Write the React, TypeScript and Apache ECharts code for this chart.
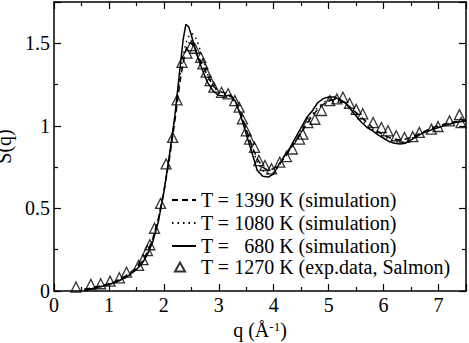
import React, { useEffect, useRef } from "react";
import * as echarts from "echarts";

const qSim = [0.55, 0.7, 0.9, 1.1, 1.3, 1.5, 1.6, 1.7, 1.8, 1.9, 2.0, 2.1, 2.2, 2.3, 2.35, 2.4, 2.45, 2.5, 2.55, 2.6,
  2.7, 2.8, 2.9, 3.0, 3.1, 3.2, 3.3, 3.4, 3.5, 3.6, 3.7, 3.8, 3.9, 4.0, 4.1, 4.2, 4.3, 4.4, 4.5, 4.6, 4.7, 4.8, 4.9,
  5.0, 5.1, 5.2, 5.3, 5.4, 5.5, 5.6, 5.7, 5.8, 5.9, 6.0, 6.1, 6.2, 6.3, 6.4, 6.5, 6.6, 6.7, 6.8, 6.9, 7.0, 7.1, 7.2,
  7.3, 7.4, 7.5];

const s1390 = [0.01, 0.02, 0.035, 0.055, 0.09, 0.14, 0.18, 0.235, 0.32, 0.44, 0.6, 0.8, 1.03, 1.28, 1.38, 1.46, 1.5, 1.5, 1.475, 1.44,
  1.37, 1.3, 1.24, 1.21, 1.2, 1.19, 1.15, 1.08, 0.98, 0.88, 0.8, 0.75, 0.73, 0.74, 0.77, 0.81, 0.86, 0.91, 0.96, 1.01, 1.06, 1.1, 1.13,
  1.15, 1.16, 1.155, 1.14, 1.11, 1.08, 1.05, 1.02, 0.99, 0.965, 0.945, 0.93, 0.92, 0.915, 0.92, 0.93, 0.945, 0.96, 0.975, 0.99, 1.0, 1.01, 1.02,
  1.025, 1.03, 1.035];

const s1080 = [0.005, 0.015, 0.03, 0.05, 0.085, 0.135, 0.17, 0.225, 0.31, 0.43, 0.6, 0.81, 1.05, 1.32, 1.42, 1.5, 1.54, 1.56, 1.55, 1.52,
  1.42, 1.31, 1.24, 1.2, 1.19, 1.18, 1.14, 1.07, 0.97, 0.87, 0.78, 0.73, 0.71, 0.72, 0.76, 0.81, 0.86, 0.91, 0.97, 1.02, 1.07, 1.11, 1.14,
  1.16, 1.165, 1.16, 1.14, 1.11, 1.07, 1.04, 1.0, 0.98, 0.955, 0.935, 0.92, 0.905, 0.9, 0.905, 0.92, 0.94, 0.955, 0.97, 0.985, 0.995, 1.005, 1.015,
  1.02, 1.03, 1.03];

const s680 = [0.0, 0.015, 0.03, 0.05, 0.08, 0.13, 0.165, 0.22, 0.3, 0.42, 0.6, 0.82, 1.06, 1.37, 1.52, 1.615, 1.6, 1.55, 1.49, 1.43,
  1.34, 1.26, 1.21, 1.185, 1.18, 1.185, 1.15, 1.06, 0.95, 0.84, 0.73, 0.695, 0.69, 0.71, 0.77, 0.82, 0.87, 0.93, 0.99, 1.05, 1.09, 1.14, 1.165,
  1.175, 1.175, 1.16, 1.14, 1.1, 1.06, 1.02, 0.99, 0.97, 0.945, 0.925, 0.905, 0.895, 0.89, 0.895, 0.915, 0.935, 0.955, 0.965, 0.98, 0.99, 1.0, 1.01,
  1.02, 1.025, 1.03];

const qExp = [0.4, 0.67, 0.85, 1.02, 1.19, 1.32, 1.54, 1.62, 1.7, 1.745, 1.83, 1.94, 2.04, 2.16, 2.24, 2.33, 2.42, 2.5, 2.56,
  2.67, 2.71, 2.77, 2.84, 2.91, 3.05, 3.17, 3.29, 3.37, 3.43, 3.5, 3.56, 3.65, 3.73, 3.84, 3.96, 4.11, 4.23, 4.34, 4.47,
  4.53, 4.62, 4.75, 4.87, 5.02, 5.15, 5.26, 5.38, 5.5, 5.62, 5.81, 5.96, 6.08, 6.23, 6.38, 6.53, 6.65, 6.87, 6.99, 7.2,
  7.38, 7.41];
const sExp = [0.024, 0.04, 0.044, 0.06, 0.08, 0.114, 0.155, 0.19, 0.245, 0.28, 0.38, 0.53, 0.77, 0.93, 1.157, 1.385, 1.44, 1.486, 1.47,
  1.415, 1.375, 1.325, 1.274, 1.234, 1.203, 1.194, 1.153, 1.113, 1.042, 0.97, 0.92, 0.87, 0.79, 0.76, 0.74, 0.78, 0.814, 0.86, 0.92,
  0.95, 1.02, 1.04, 1.093, 1.153, 1.163, 1.173, 1.137, 1.1, 1.073, 1.02, 0.99, 0.97, 0.94, 0.93, 0.935, 0.96, 0.98, 0.996, 1.03,
  1.068, 1.02];

const legendNames = [
  "T = 1390 K (simulation)",
  "T = 1080 K (simulation)",
  "T = \u00a0\u00a0680 K (simulation)",
  "T = 1270 K (exp.data, Salmon)",
];

const xTicks = { min: 0, max: 7.5, interval: 1 };
const yTicks = { min: 0, max: 1.75, interval: 0.5 };

const FONT = "Liberation Serif";

export default function App() {
  const ref = useRef<HTMLDivElement>(null);
  useEffect(() => {
    if (!ref.current) return;
    const chart = echarts.init(ref.current, undefined, { renderer: "svg" });
    const pair = (xs: number[], ys: number[]) => xs.map((x, i) => [x, ys[i]]);
    const axisCommon = {
      type: "value" as const,
      splitLine: { show: false },
      axisLine: { show: true, onZero: false, lineStyle: { color: "#000", width: 1.5 } },
      axisTick: { show: true, inside: true, length: 7, lineStyle: { color: "#000", width: 1.2 } },
      minorTick: { show: true, splitNumber: 2, length: 4, lineStyle: { color: "#000", width: 1.2 } },
    };
    const labelStyle = { color: "#000", fontSize: 20, fontFamily: FONT };
    chart.setOption({
      animation: false,
      backgroundColor: "#fff",
      textStyle: { fontFamily: FONT },
      grid: { left: 54, right: 3, top: 2, bottom: 52, outerBoundsMode: "none", containLabel: false },
      legend: [
        {
          orient: "vertical",
          left: 166,
          top: 185,
          itemWidth: 24,
          itemHeight: 12,
          itemGap: 3,
          data: legendNames.slice(0, 3).map((n) => ({ name: n, itemStyle: { opacity: 0 } })),
          textStyle: { color: "#000", fontSize: 20, fontFamily: FONT },
        },
        {
          orient: "vertical",
          left: 169,
          top: 252,
          itemWidth: 10,
          itemHeight: 9,
          data: [legendNames[3]],
          textStyle: { color: "#000", fontSize: 20, fontFamily: FONT, padding: [0, 0, 0, 11] },
        },
      ],
      xAxis: [
        {
          ...axisCommon,
          ...xTicks,
          position: "bottom",
          axisLabel: { ...labelStyle, margin: 4, showMaxLabel: false },
          name: "{a|q (Å}{sup|-1}{a|)}",
          nameLocation: "middle",
          nameGap: 28,
          nameTextStyle: {
            rich: {
              a: { fontSize: 20, fontFamily: FONT, color: "#000" },
              sup: { fontSize: 13, fontFamily: FONT, color: "#000", verticalAlign: "top", padding: [0, 0, 8, 0] },
            },
          },
        },
        {
          ...axisCommon,
          ...xTicks,
          position: "top",
          axisLabel: { show: false },
        },
      ],
      yAxis: [
        {
          ...axisCommon,
          ...yTicks,
          position: "left",
          axisLabel: { ...labelStyle, margin: 4, showMaxLabel: false },
          name: "S(q)",
          nameLocation: "middle",
          nameGap: 25,
          nameTextStyle: { ...labelStyle },
        },
        {
          ...axisCommon,
          ...yTicks,
          position: "right",
          axisLabel: { show: false },
        },
      ],
      series: [
        {
          name: legendNames[0],
          type: "line",
          data: pair(qSim, s1390),
          symbol: "none",
          lineStyle: { color: "#000", width: 1.5, type: [6, 4] },
          itemStyle: { color: "#000" },
        },
        {
          name: legendNames[1],
          type: "line",
          data: pair(qSim, s1080),
          symbol: "none",
          lineStyle: { color: "#000", width: 1.5, type: [1.5, 4] },
          itemStyle: { color: "#000" },
        },
        {
          name: legendNames[2],
          type: "line",
          data: pair(qSim, s680),
          symbol: "none",
          lineStyle: { color: "#000", width: 1.5, type: "solid" },
          itemStyle: { color: "#000" },
        },
        {
          name: legendNames[3],
          type: "scatter",
          data: pair(qExp, sExp),
          symbol: "triangle",
          symbolSize: 10,
          itemStyle: { color: "rgba(255,255,255,0)", borderColor: "#000", borderWidth: 1.3 },
        },
      ],
    });
    return () => chart.dispose();
  }, []);
  return <div ref={ref} style={{ width: 469, height: 343, position: "absolute", left: 0, top: 0 }} />;
}
